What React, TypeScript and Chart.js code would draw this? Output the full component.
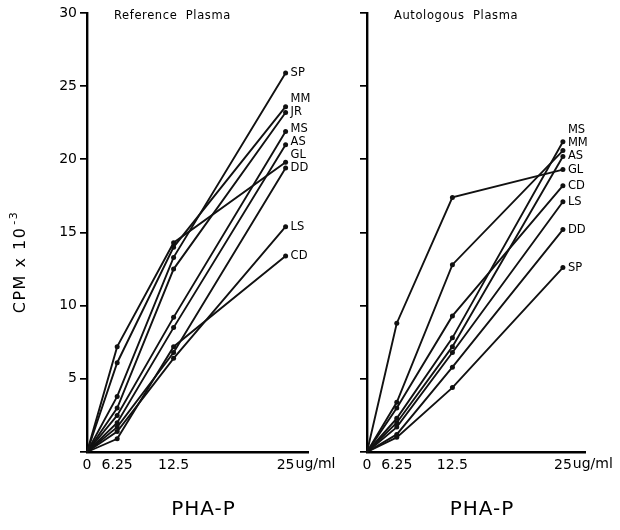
import React, { useEffect, useRef } from 'react';
import { Chart, registerables, LinearScale } from 'chart.js';

// ---------- data ----------
const doses = [0, 6.25, 12.5, 25];
const doseTicks = [0, 6.25, 12.5, 25];
const yTickStep = 5;
const yMax = 30;

// Reference Plasma (CPM x 10^-3)
const refSP = [0, 3.8, 13.3, 25.9];
const refMM = [0, 6.1, 14.0, 23.6];
const refJR = [0, 3.0, 12.5, 23.2];
const refMS = [0, 2.5, 9.2, 21.9];
const refAS = [0, 2.0, 8.5, 21.0];
const refGL = [0, 7.2, 14.3, 19.8];
const refDD = [0, 1.7, 6.8, 19.4];
const refLS = [0, 1.4, 6.4, 15.4];
const refCD = [0, 0.9, 7.2, 13.4];
const refNames = ['SP', 'MM', 'JR', 'MS', 'AS', 'GL', 'DD', 'LS', 'CD'];
const refValues = [refSP, refMM, refJR, refMS, refAS, refGL, refDD, refLS, refCD];

// Autologous Plasma (CPM x 10^-3)
const autoMS = [0, 2.3, 7.8, 21.2];
const autoMM = [0, 3.4, 12.8, 20.6];
const autoAS = [0, 2.0, 7.2, 20.2];
const autoGL = [0, 8.8, 17.4, 19.3];
const autoCD = [0, 3.0, 9.3, 18.2];
const autoLS = [0, 1.7, 6.8, 17.1];
const autoDD = [0, 1.2, 5.8, 15.2];
const autoSP = [0, 1.0, 4.4, 12.6];
const autoNames = ['MS', 'MM', 'AS', 'GL', 'CD', 'LS', 'DD', 'SP'];
const autoValues = [autoMS, autoMM, autoAS, autoGL, autoCD, autoLS, autoDD, autoSP];

// ---------- non-uniform dose axis (as drawn in the original figure) ----------
const warpDose = [0, 6.25, 12.5, 25];
const warpAxis = [0, 3.8, 10.9, 25];
const doseAxisEnd = 27.5;

function warp(v: number): number {
  const n = warpDose.length;
  for (let i = 1; i < n; i++) {
    if (v <= warpDose[i] || i === n - 1) {
      const d0 = warpDose[i - 1], d1 = warpDose[i];
      const a0 = warpAxis[i - 1], a1 = warpAxis[i];
      return a0 + ((v - d0) * (a1 - a0)) / (d1 - d0);
    }
  }
  return v;
}
function unwarp(a: number): number {
  const n = warpAxis.length;
  for (let i = 1; i < n; i++) {
    if (a <= warpAxis[i] || i === n - 1) {
      const d0 = warpDose[i - 1], d1 = warpDose[i];
      const a0 = warpAxis[i - 1], a1 = warpAxis[i];
      return d0 + ((a - a0) * (d1 - d0)) / (a1 - a0);
    }
  }
  return a;
}

class DoseScale extends LinearScale {
  static id = 'dose';
  static defaults = LinearScale.defaults;
  getPixelForValue(value: number) {
    return super.getPixelForValue(warp(value));
  }
  getValueForPixel(pixel: number) {
    return unwarp(super.getValueForPixel(pixel) as number);
  }
}

Chart.register(...registerables, DoseScale as any);

const FONT = '"DejaVu Sans", "Liberation Sans", sans-serif';

function annotatePlugin(title: string, names: string[], showYTitle: boolean) {
  return {
    id: 'annotate',
    afterDraw(chart: any) {
      const ctx = chart.ctx as CanvasRenderingContext2D;
      const area = chart.chartArea;
      const xs = chart.scales.x;
      ctx.save();
      ctx.fillStyle = '#000';

      // panel title
      ctx.font = `11.5px ${FONT}`;
      (ctx as any).letterSpacing = '0.6px';
      ctx.textAlign = 'left';
      ctx.textBaseline = 'middle';
      ctx.fillText(title, area.left + 27, 16);

      // unit after last tick label
      ctx.font = `14px ${FONT}`;
      (ctx as any).letterSpacing = '0px';
      const last = doseTicks[doseTicks.length - 1];
      const lx = xs.getPixelForValue(last);
      const w = ctx.measureText(String(last)).width;
      ctx.textBaseline = 'top';
      ctx.fillText('ug/ml', lx + w / 2 + 1, area.bottom + 5);

      // series end labels (pushed upward when crowded)
      const items = names.map((name, i) => {
        const meta = chart.getDatasetMeta(i);
        const pt = meta.data[meta.data.length - 1];
        return { name, x: pt.x, y: pt.y, ly: pt.y };
      });
      items.sort((a, b) => a.y - b.y);
      const gap = 13;
      for (let i = items.length - 2; i >= 0; i--) {
        items[i].ly = Math.min(items[i].y, items[i + 1].ly - gap);
      }
      ctx.font = `11.5px ${FONT}`;
      ctx.textBaseline = 'middle';
      items.forEach((it) => ctx.fillText(it.name, it.x + 5, it.ly));

      // x title
      ctx.font = `20px ${FONT}`;
      (ctx as any).letterSpacing = '1px';
      ctx.textAlign = 'center';
      ctx.textBaseline = 'middle';
      ctx.fillText('PHA-P', (area.left + area.right) / 2 + 6, 510);

      // y title
      if (showYTitle) {
        ctx.translate(21, 262);
        ctx.rotate(-Math.PI / 2);
        ctx.font = `16px ${FONT}`;
        (ctx as any).letterSpacing = '1.5px';
        const main = 'CPM x 10';
        ctx.textAlign = 'left';
        const mw = ctx.measureText(main).width;
        ctx.font = `11px ${FONT}`;
        const sup = '-3';
        const sw = ctx.measureText(sup).width;
        const total = mw + sw + 2;
        ctx.font = `16px ${FONT}`;
        ctx.fillText(main, -total / 2, 0);
        ctx.font = `11px ${FONT}`;
        ctx.fillText(sup, -total / 2 + mw + 2, -7);
      }
      ctx.restore();
    },
  };
}

function makeConfig(
  names: string[],
  values: number[][],
  title: string,
  yAxisWidth: number,
  padRight: number,
  showYLabels: boolean
): any {
  return {
    type: 'line',
    data: {
      labels: doses,
      datasets: values.map((vals, i) => ({
        label: names[i],
        data: vals.map((v, j) => ({ x: doses[j], y: v })),
        borderColor: '#111',
        borderWidth: 1.9,
        backgroundColor: '#111',
        pointBackgroundColor: '#111',
        pointBorderWidth: 0,
        pointRadius: (c: any) => (c.dataIndex === 0 ? 0 : 2.5),
        tension: 0,
        clip: false,
        fill: false,
      })),
    },
    options: {
      responsive: false,
      animation: false,
      events: [],
      layout: { autoPadding: false, padding: { top: 13, right: padRight, bottom: 0, left: 0 } },
      plugins: { legend: { display: false }, tooltip: { enabled: false }, title: { display: false } },
      scales: {
        x: {
          type: 'dose',
          position: 'bottom',
          min: 0,
          max: warp(doseAxisEnd),
          bounds: 'data',
          afterBuildTicks: (s: any) => {
            s.ticks = doseTicks.map((v) => ({ value: v }));
          },
          afterFit: (s: any) => {
            s.height = 78;
          },
          grid: { display: false, drawTicks: false },
          border: { display: true, color: '#000', width: 2.4 },
          ticks: {
            autoSkip: false,
            maxRotation: 0,
            padding: 5,
            color: '#000',
            font: { family: FONT, size: 14 },
            callback: (v: any) => String(v),
          },
        },
        y: {
          type: 'linear',
          min: 0,
          max: yMax,
          afterFit: (s: any) => {
            s.width = yAxisWidth;
          },
          grid: {
            display: true,
            drawOnChartArea: false,
            drawTicks: true,
            tickLength: 7,
            color: '#000',
            lineWidth: 1.7,
          },
          border: { display: true, color: '#000', width: 2.4 },
          ticks: {
            stepSize: yTickStep,
            padding: 3,
            color: '#000',
            font: { family: FONT, size: 14 },
            callback: (v: any) => (showYLabels && v !== 0 ? String(v) : ''),
          },
        },
      },
    },
    plugins: [annotatePlugin(title, names, showYLabels)],
  };
}

export default function App() {
  const leftRef = useRef<HTMLCanvasElement>(null);
  const rightRef = useRef<HTMLCanvasElement>(null);

  useEffect(() => {
    Chart.defaults.font.family = FONT;
    Chart.defaults.color = '#000';
    const left = new Chart(
      leftRef.current!,
      makeConfig(refNames, refValues, 'Reference  Plasma', 87, 345 - 308, true)
    );
    const right = new Chart(
      rightRef.current!,
      makeConfig(autoNames, autoValues, 'Autologous  Plasma', 57, 310 - 275, false)
    );
    return () => {
      left.destroy();
      right.destroy();
    };
  }, []);

  return (
    <div style={{ position: 'fixed', left: 0, top: 0, width: 620, height: 530, background: '#fff' }}>
      <canvas ref={leftRef} width={345} height={530} style={{ position: 'absolute', left: 0, top: 0 }} />
      <canvas ref={rightRef} width={310} height={530} style={{ position: 'absolute', left: 310, top: 0 }} />
    </div>
  );
}
